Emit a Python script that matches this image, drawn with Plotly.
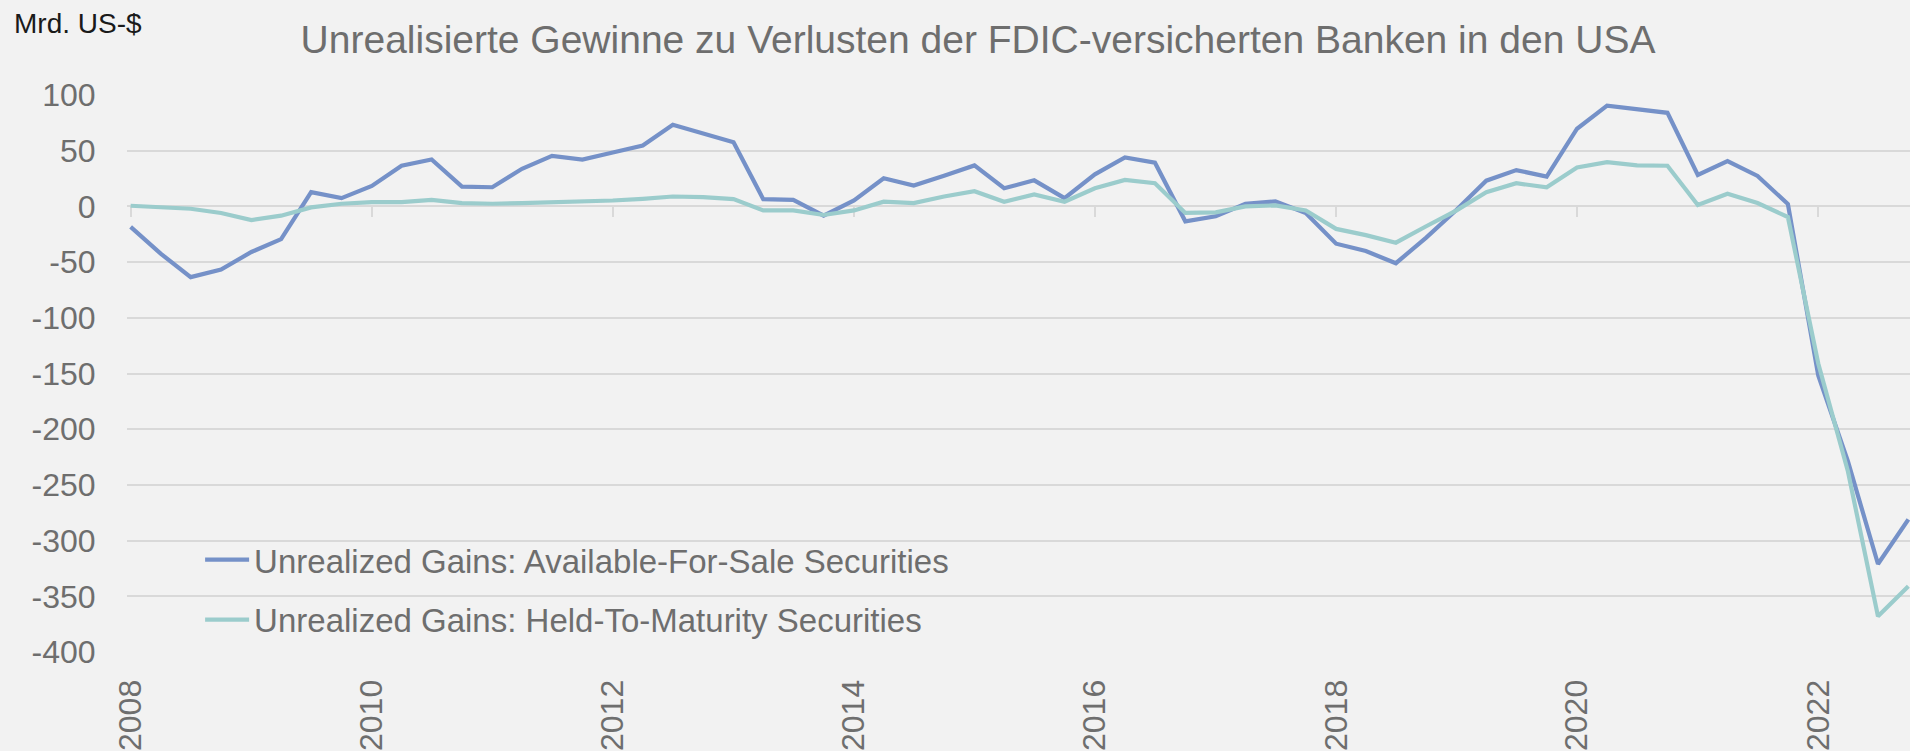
import pandas as pd
import plotly.graph_objects as go

# quarterly data, bn US-$
quarters = pd.date_range('2008-01-01', periods=60, freq='QS')

afs_gains = [-18.4, -42.4, -63.5, -56.7, -40.9, -29.4, 12.8, 7.4, 18.4, 36.5,
             42.1, 17.8, 17.2, 33.8, 45.4, 42.1, 48.4, 54.6, 73.3, 65.9,
             57.6, 6.5, 5.9, -8.3, 5.3, 25.2, 18.7, 27.6, 36.8, 16.3,
             23.4, 7.4, 28.8, 43.9, 39.2, -13.4, -8.9, 2.4, 4.5, -5.9,
             -33.5, -40.1, -51.0, -28.0, -3.0, 23.1, 32.6, 26.7, 69.7, 90.5,
             87.5, 84.0, 28.2, 40.7, 27.3, 2.1, -151.8, -229.0, -321.0, -281.0]

htm_gains = [0.6, -0.9, -2.1, -5.9, -12.2, -8.3, -0.9, 2.4, 3.9, 3.9,
             5.9, 3.0, 2.4, 3.0, 3.9, 3.9, 5.3, 6.8, 8.9, 8.3,
             6.5, -3.6, -3.6, -7.7, -3.6, 4.2, 3.0, 8.9, 13.6, 4.2,
             10.7, 4.2, 16.3, 23.7, 20.8, -5.9, -5.3, 0.0, 0.9, -3.6,
             -20.2, -25.8, -32.6, -17.8, -3.5, 12.8, 20.8, 17.2, 35.0, 39.8,
             36.8, 36.5, 1.2, 11.3, 3.0, -9.5, -141.0, -238.0, -368.0, -341.0]

series_names = ['Unrealized Gains: Available-For-Sale Securities',
                'Unrealized Gains: Held-To-Maturity Securities']

y_ticks = [100, 50, 0, -50, -100, -150, -200, -250, -300, -350, -400]
y_tick_text = ['100', '50', '0', '-50', '-100', '-150', '-200', '-250', '-300', '-350', '-400']

title_text = 'Unrealisierte Gewinne zu Verlusten der FDIC-versicherten Banken in den USA'
unit_text = 'Mrd. US-$'

FONT = 'Liberation Sans, Arial, sans-serif'
GRAY = '#6e6e6e'
GRID = '#d9d9d9'
BG = '#f2f2f2'
W, H = 1910, 751
ML, MT, MB = 127, 95, 96

fig = go.Figure()
# invisible helper so the labelled bottom axis gets drawn
fig.add_trace(go.Scatter(x=quarters, y=afs_gains, mode='lines', opacity=0,
                         line=dict(width=0), showlegend=False, hoverinfo='skip',
                         xaxis='x', yaxis='y'))
fig.add_trace(go.Scatter(x=quarters, y=afs_gains, name=series_names[0], mode='lines',
                         line=dict(color='#7591c8', width=4.2), xaxis='x2', yaxis='y',
                         legendgroup='a'))
fig.add_trace(go.Scatter(x=quarters, y=htm_gains, name=series_names[1], mode='lines',
                         line=dict(color='#9bcccc', width=4.2), xaxis='x2', yaxis='y',
                         legendgroup='b'))

x_range = ['2007-12-21', '2022-10-06']

fig.update_layout(
    width=W, height=H,
    margin=dict(l=ML, r=0, t=MT, b=MB),
    paper_bgcolor=BG, plot_bgcolor=BG,
    font=dict(family=FONT, color=GRAY, size=32),
    title=dict(text=title_text, x=978 / W, xref='container',
               xanchor='center', y=1 - 39 / H, yanchor='middle',
               font=dict(size=39, color=GRAY, family=FONT)),
    xaxis=dict(range=x_range, tickformat='%Y', dtick='M24', tick0='2008-01-01',
               tickangle=-90, showgrid=False, zeroline=False, showline=False,
               ticks='outside', ticklen=14, tickcolor='rgba(0,0,0,0)',
               tickfont=dict(size=32, color=GRAY)),
    xaxis2=dict(overlaying='x', matches='x', anchor='free', position=0.8,
                showticklabels=False, showgrid=False, zeroline=False,
                showline=True, linecolor=GRID, linewidth=1.5,
                ticks='outside', ticklen=10, tickcolor=GRID, tickwidth=1.5,
                dtick='M24', tick0='2008-01-01', layer='below traces'),
    yaxis=dict(range=[-400, 100], tickvals=y_ticks, ticktext=y_tick_text,
               showgrid=True, gridcolor=GRID, gridwidth=1.5, zeroline=False,
               showline=False, ticks='outside', ticklen=24, tickcolor='rgba(0,0,0,0)',
               tickfont=dict(size=32, color=GRAY)),
    legend=dict(x=0.041, y=0.216, xanchor='left', yanchor='top',
                bgcolor='rgba(0,0,0,0)', font=dict(size=33, color=GRAY),
                tracegroupgap=14, itemwidth=44),
    showlegend=True,
)

fig.add_annotation(text=unit_text, xref='paper', yref='paper',
                   x=(12 - ML) / (W - ML), y=(H - MB - 6) / (H - MB - MT),
                   xanchor='left', yanchor='top', showarrow=False,
                   font=dict(size=28, color='#1a1a1a', family=FONT))

# remove the default page margin so the chart fills the window
fig.write_html('out.html', config={'displayModeBar': False},
               post_script="document.body.style.margin='0';document.body.style.background='#f2f2f2';")
